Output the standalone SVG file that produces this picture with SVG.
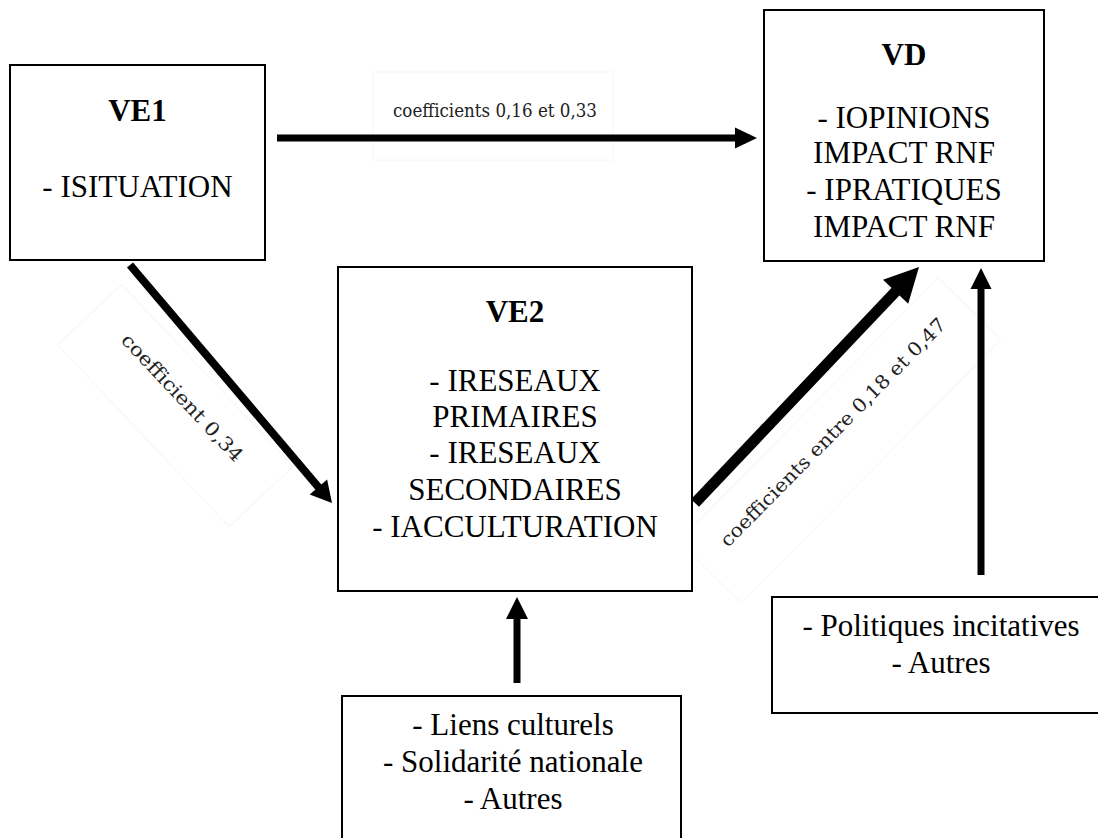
<svg xmlns="http://www.w3.org/2000/svg" width="1098" height="838" viewBox="0 0 1098 838">
<style>
.box{fill:#fff;stroke:#000;stroke-width:2}
.t{font-family:"Liberation Serif","Times New Roman",serif;font-size:31px;fill:#000;text-anchor:middle}
.b{font-weight:bold}
.lbl{font-family:"DejaVu Serif","Liberation Serif",serif;font-size:19px;fill:#222}
.lblbg{fill:#fff;stroke:#f6f6f6;stroke-width:1}
.sh{stroke:#000;fill:none}
.hd{fill:#000}
</style>
<rect width="1098" height="838" fill="#fff"/>
<g id="labels">
  <rect class="lblbg" x="373" y="72" width="240" height="88"/>
  <text class="lbl" x="393" y="117" textLength="204" lengthAdjust="spacingAndGlyphs">coefficients 0,16 et 0,33</text>
  <g transform="translate(120,341) rotate(46.7)">
    <rect class="lblbg" x="-40" y="-40" width="250" height="88"/>
    <text class="lbl" x="0" y="0" textLength="168" lengthAdjust="spacingAndGlyphs">coefficient 0,34</text>
  </g>
  <g transform="translate(728,548) rotate(-45.4)">
    <rect class="lblbg" x="-30" y="-40" width="370" height="88"/>
    <text class="lbl" x="0" y="0" textLength="312" lengthAdjust="spacingAndGlyphs">coefficients entre 0,18 et 0,47</text>
  </g>
</g>
<g id="connectors">
  <line class="sh" x1="277" y1="138" x2="737" y2="138" stroke-width="7"/>
  <polygon class="hd" points="757,138 735,127.5 735,148.5"/>
  <line class="sh" x1="130" y1="265" x2="320" y2="489" stroke-width="8"/>
  <polygon class="hd" points="332,503 309.7,494.4 327.1,479.6"/>
  <line class="sh" x1="695" y1="503" x2="898" y2="289" stroke-width="11"/>
  <polygon class="hd" points="919,267 883,279.7 908.2,303.7"/>
  <line class="sh" x1="981" y1="575" x2="981" y2="286" stroke-width="7"/>
  <polygon class="hd" points="981,268 970.5,289 991.5,289"/>
  <line class="sh" x1="517" y1="683" x2="517" y2="617" stroke-width="7"/>
  <polygon class="hd" points="517,597 506,619 528,619"/>
</g>
<g id="VE1">
  <rect class="box" x="10" y="65" width="255" height="195"/>
  <text class="t b" x="137.5" y="121">VE1</text>
  <text class="t" x="137.5" y="197">- ISITUATION</text>
</g>
<g id="VD">
  <rect class="box" x="764" y="10" width="280" height="251"/>
  <text class="t b" x="904" y="65">VD</text>
  <text class="t" x="904" y="128">- IOPINIONS</text>
  <text class="t" x="904" y="163">IMPACT RNF</text>
  <text class="t" x="904" y="200">- IPRATIQUES</text>
  <text class="t" x="904" y="237">IMPACT RNF</text>
</g>
<g id="VE2">
  <rect class="box" x="338" y="267" width="354" height="324"/>
  <text class="t b" x="515" y="322">VE2</text>
  <text class="t" x="515" y="391">- IRESEAUX</text>
  <text class="t" x="515" y="427">PRIMAIRES</text>
  <text class="t" x="515" y="463">- IRESEAUX</text>
  <text class="t" x="515" y="500">SECONDAIRES</text>
  <text class="t" x="515" y="537">- IACCULTURATION</text>
</g>
<g id="facteurs-culturels">
  <rect class="box" x="342" y="696" width="339" height="150"/>
  <text class="t" x="513" y="735">- Liens culturels</text>
  <text class="t" x="513" y="772">- Solidarité nationale</text>
  <text class="t" x="513" y="809">- Autres</text>
</g>
<g id="politiques">
  <rect class="box" x="772" y="597" width="340" height="116"/>
  <text class="t" x="941" y="636">- Politiques incitatives</text>
  <text class="t" x="941" y="673">- Autres</text>
</g>
</svg>
